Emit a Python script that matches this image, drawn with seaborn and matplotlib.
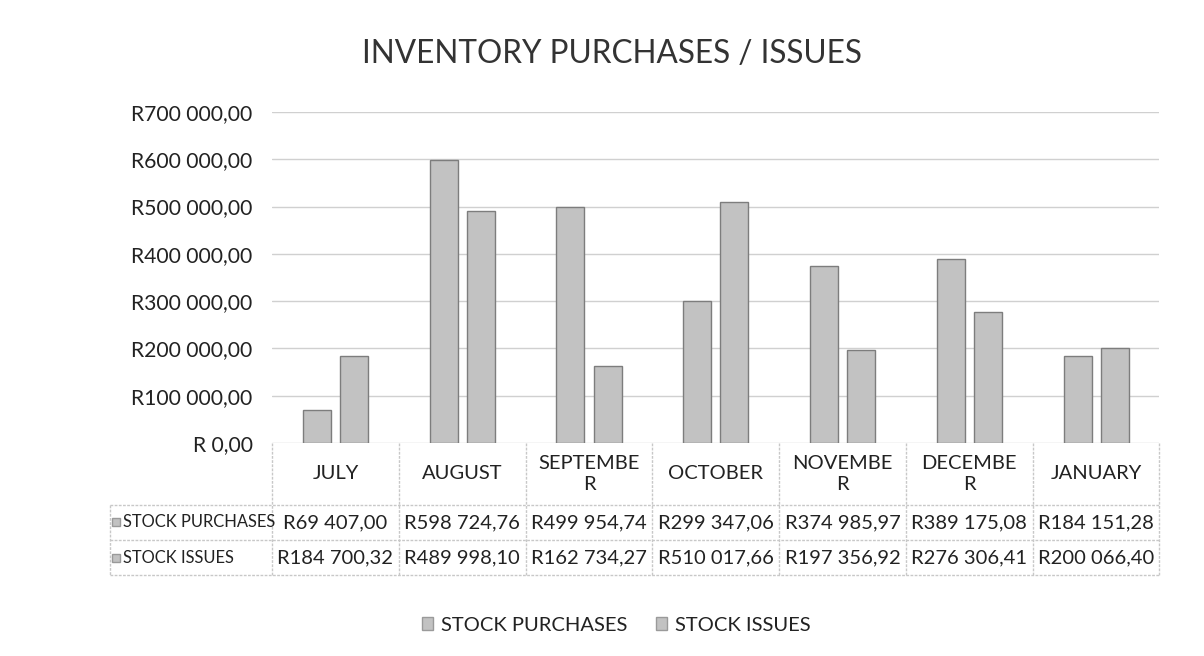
import matplotlib
matplotlib.use("Agg")
import matplotlib.pyplot as plt
import matplotlib.transforms as mtransforms
import pandas as pd
import seaborn as sns

months = ["JULY", "AUGUST", "SEPTEMBER", "OCTOBER", "NOVEMBER", "DECEMBER", "JANUARY"]
month_labels = ["JULY", "AUGUST", "SEPTEMBE\nR", "OCTOBER", "NOVEMBE\nR", "DECEMBE\nR", "JANUARY"]
series = ["STOCK PURCHASES", "STOCK ISSUES"]
purchases = [69407.00, 598724.76, 499954.74, 299347.06, 374985.97, 389175.08, 184151.28]
issues = [184700.32, 489998.10, 162734.27, 510017.66, 197356.92, 276306.41, 200066.40]
yticks = [0, 100000, 200000, 300000, 400000, 500000, 600000, 700000]

sns.set_style("white")
plt.rcParams["font.family"] = ["Lato", "DejaVu Sans"]


def rand(v):
    s = f"{v:,.2f}".replace(",", " ").replace(".", ",")
    return "R" + s


df = pd.DataFrame({
    "month": months * 2,
    "series": [series[0]] * 7 + [series[1]] * 7,
    "value": purchases + issues,
})

fig = plt.figure(figsize=(12.04, 6.56), dpi=100)
ax = fig.add_axes([0.226, 0.3247, 0.737, 0.5046])

bar_grey = "#c2c2c2"
sns.barplot(data=df, x="month", y="value", hue="series", order=months,
            palette=[bar_grey, bar_grey], width=0.585, gap=0.245,
            edgecolor="#7d7d7d", linewidth=1.0, ax=ax, legend=False)

ax.set_ylim(0, 700000)
ax.set_xlim(-0.5, 6.5)
ax.set_yticks(yticks)
ax.set_yticklabels(["R 0,00"] + [rand(v) for v in yticks[1:]], fontsize=15.2, color="#222222")
ax.tick_params(axis="y", length=0, pad=14)
ax.set_xticks([])
ax.set_xlabel("")
ax.set_ylabel("")
ax.grid(axis="y", color="#d0d0d0", linewidth=1)
ax.set_axisbelow(True)
for s in ax.spines.values():
    s.set_visible(False)

fig.suptitle("INVENTORY PURCHASES / ISSUES", x=0.508, y=0.94, fontsize=22.7, color="#333333")

# data table under the plot
tr = mtransforms.blended_transform_factory(ax.transData, ax.transAxes)
line_kw = dict(color="#c8c8c8", linewidth=1, linestyle=(0, (2, 1)), transform=tr, clip_on=False)
y_head, y_r1, y_r2 = -0.187, -0.293, -0.399
x_left = -1.78
for i in range(8):
    ax.plot([i - 0.5, i - 0.5], [0, y_r2], **line_kw)
ax.plot([x_left, 6.5], [y_head, y_head], **line_kw)
ax.plot([x_left, 6.5], [y_r1, y_r1], **line_kw)
ax.plot([x_left, 6.5], [y_r2, y_r2], **line_kw)
ax.plot([x_left, x_left], [y_head, y_r2], **line_kw)

for i, lab in enumerate(month_labels):
    ax.text(i, y_head / 2, lab, transform=tr, ha="center", va="center",
            fontsize=14.5, color="#222222", linespacing=1.25)
for i in range(7):
    ax.text(i, (y_head + y_r1) / 2, rand(purchases[i]), transform=tr,
            ha="center", va="center", fontsize=14.5, color="#222222")
    ax.text(i, (y_r1 + y_r2) / 2, rand(issues[i]), transform=tr,
            ha="center", va="center", fontsize=14.5, color="#222222")

for name, yc in [(series[0], (y_head + y_r1) / 2), (series[1], (y_r1 + y_r2) / 2)]:
    ax.plot([x_left + 0.05], [yc], marker="s", markersize=6, color=bar_grey,
            markeredgecolor="#9a9a9a", transform=tr, clip_on=False)
    ax.text(x_left + 0.1, yc, name, transform=tr, ha="left", va="center",
            fontsize=11.9, color="#222222")

handles = [plt.Rectangle((0, 0), 1, 1, facecolor=bar_grey, edgecolor="#9a9a9a")
           for _ in series]
fig.legend(handles, series, loc="center", bbox_to_anchor=(0.512, 0.047), ncol=2,
           frameon=False, fontsize=14.5, handlelength=0.55, handleheight=0.55,
           handletextpad=0.4, columnspacing=1.4, labelcolor="#222222")

fig.savefig("out.png", dpi=100)
